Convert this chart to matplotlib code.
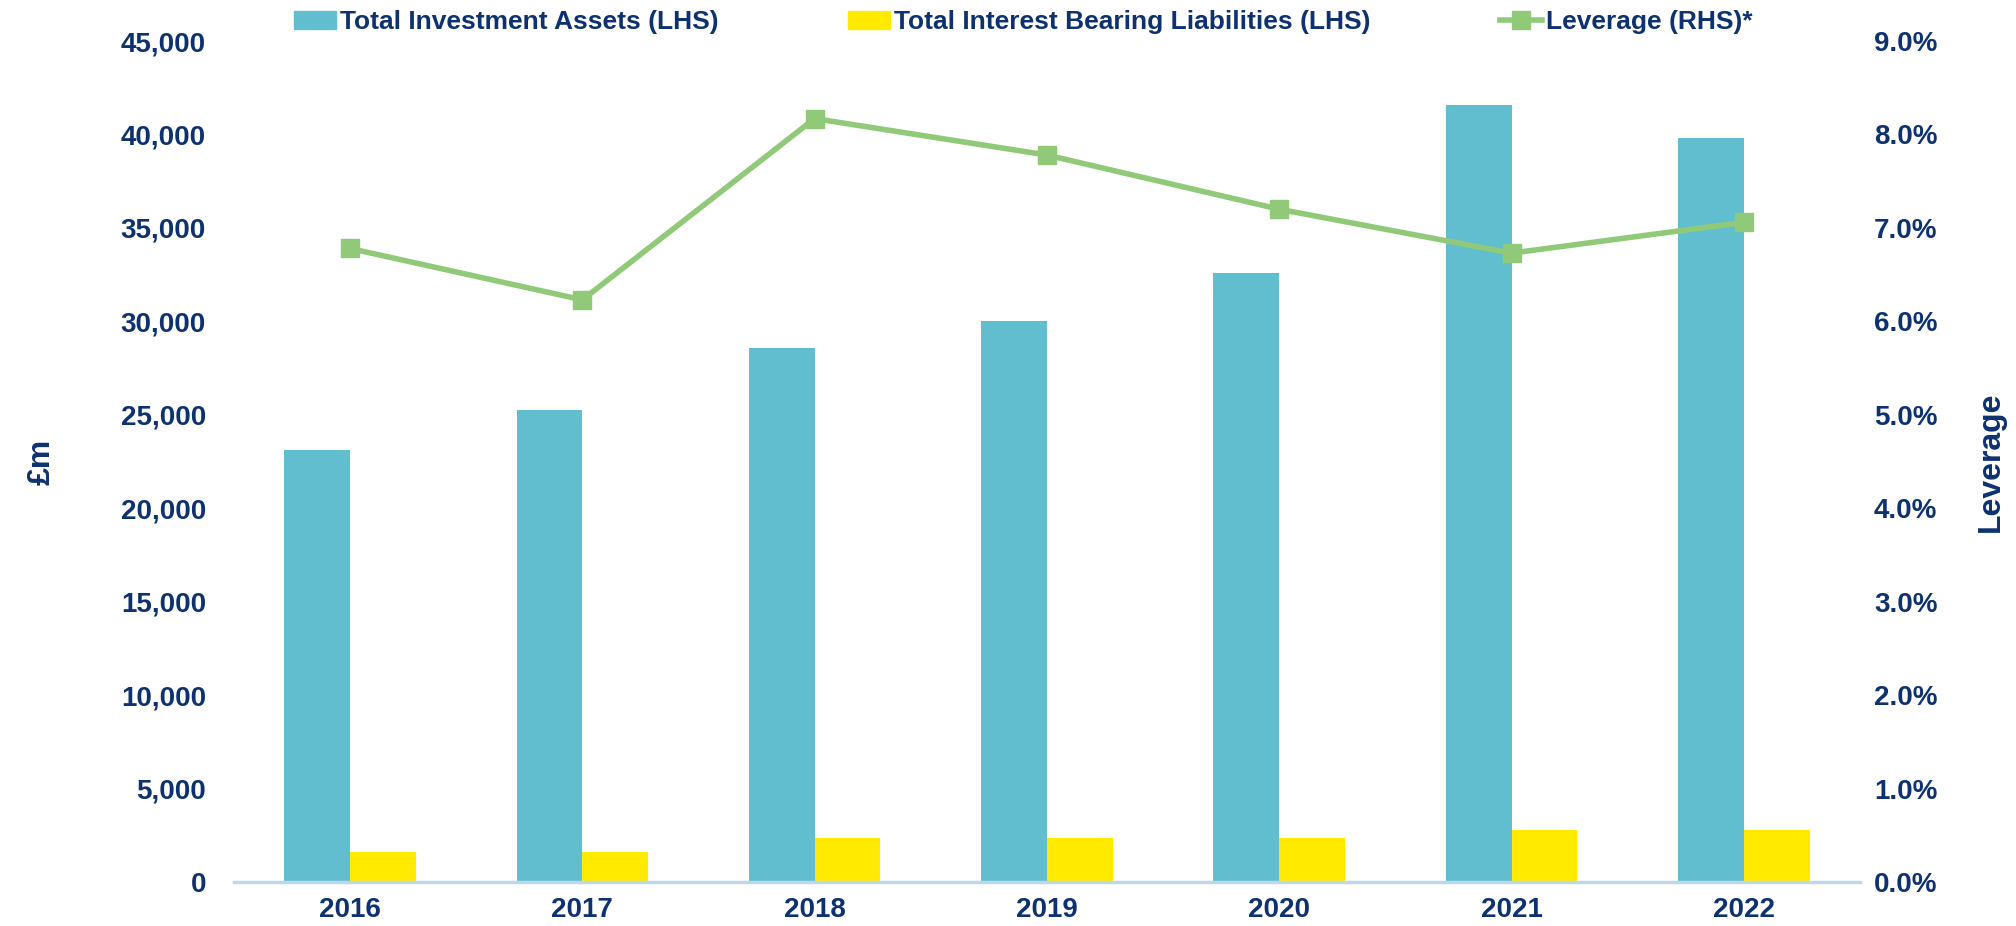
import matplotlib
matplotlib.use("Agg")
import matplotlib.pyplot as plt
import numpy as np
from matplotlib.ticker import FuncFormatter, MultipleLocator
from matplotlib.patches import Patch
from matplotlib.lines import Line2D

years = ["2016", "2017", "2018", "2019", "2020", "2021", "2022"]
investment_assets = [23100, 25250, 28550, 30000, 32600, 41550, 39800]
interest_liabilities = [1580, 1620, 2380, 2380, 2380, 2800, 2800]
leverage_pct = [6.78, 6.23, 8.17, 7.78, 7.20, 6.73, 7.06]

TEAL = "#60BECF"
YELLOW = "#FFEA00"
GREEN = "#90C978"
NAVY = "#0E3270"
AXIS = "#BDD7EE"

plt.rcParams["font.family"] = ["Liberation Sans", "DejaVu Sans"]
plt.rcParams["font.weight"] = "bold"

fig = plt.figure(figsize=(20.16, 9.26), dpi=100)
ax = fig.add_axes([0.116, 0.0475, 0.8066, 0.9082])
ax2 = ax.twinx()

x = np.arange(len(years))
w = 0.283
ax.bar(x - w / 2, investment_assets, width=w, color=TEAL, zorder=2)
ax.bar(x + w / 2, interest_liabilities, width=w, color=YELLOW, zorder=2)
ax2.plot(x, leverage_pct, color=GREEN, lw=4, marker="s", ms=13, zorder=3)

ax.set_xlim(-0.5, len(years) - 0.5)
ax.set_ylim(0, 45000)
ax2.set_ylim(0, 9)
ax.yaxis.set_major_locator(MultipleLocator(5000))
ax2.yaxis.set_major_locator(MultipleLocator(1))
ax.yaxis.set_major_formatter(FuncFormatter(lambda v, p: f"{int(v):,}"))
ax2.yaxis.set_major_formatter(FuncFormatter(lambda v, p: f"{v:.1f}%"))

ax.set_xticks(x)
ax.set_xticklabels(years)

for a in (ax, ax2):
    for s in ("top", "left", "right", "bottom"):
        a.spines[s].set_visible(False)
    a.tick_params(length=0, labelsize=20, labelcolor=NAVY)
ax.spines["bottom"].set_visible(True)
ax.spines["bottom"].set_color(AXIS)
ax.spines["bottom"].set_linewidth(2.5)
ax.tick_params(axis="y", pad=20)
ax.tick_params(axis="x", pad=11)
ax2.tick_params(axis="y", pad=10)
for lbl in ax.get_xticklabels() + ax.get_yticklabels() + ax2.get_yticklabels():
    lbl.set_fontweight("bold")

ax.set_ylabel("£m", fontsize=23, color=NAVY, fontweight="bold", labelpad=46)
ax2.set_ylabel("Leverage", fontsize=23, color=NAVY, fontweight="bold", labelpad=28)

handles = [
    Patch(color=TEAL, label="Total Investment Assets (LHS)"),
    Patch(color=YELLOW, label="Total Interest Bearing Liabilities (LHS)"),
    Line2D([], [], color=GREEN, lw=4, marker="s", ms=13, label="Leverage (RHS)*"),
]
leg = fig.legend(handles=handles, loc="center left", bbox_to_anchor=(0.1457, 0.976),
                 ncol=3, frameon=False, fontsize=19, handlelength=1.6,
                 handleheight=0.7, handletextpad=0.15, columnspacing=4.9,
                 borderaxespad=0, borderpad=0)
for t in leg.get_texts():
    t.set_color(NAVY)
    t.set_fontweight("bold")

fig.savefig("out.png", dpi=100)
